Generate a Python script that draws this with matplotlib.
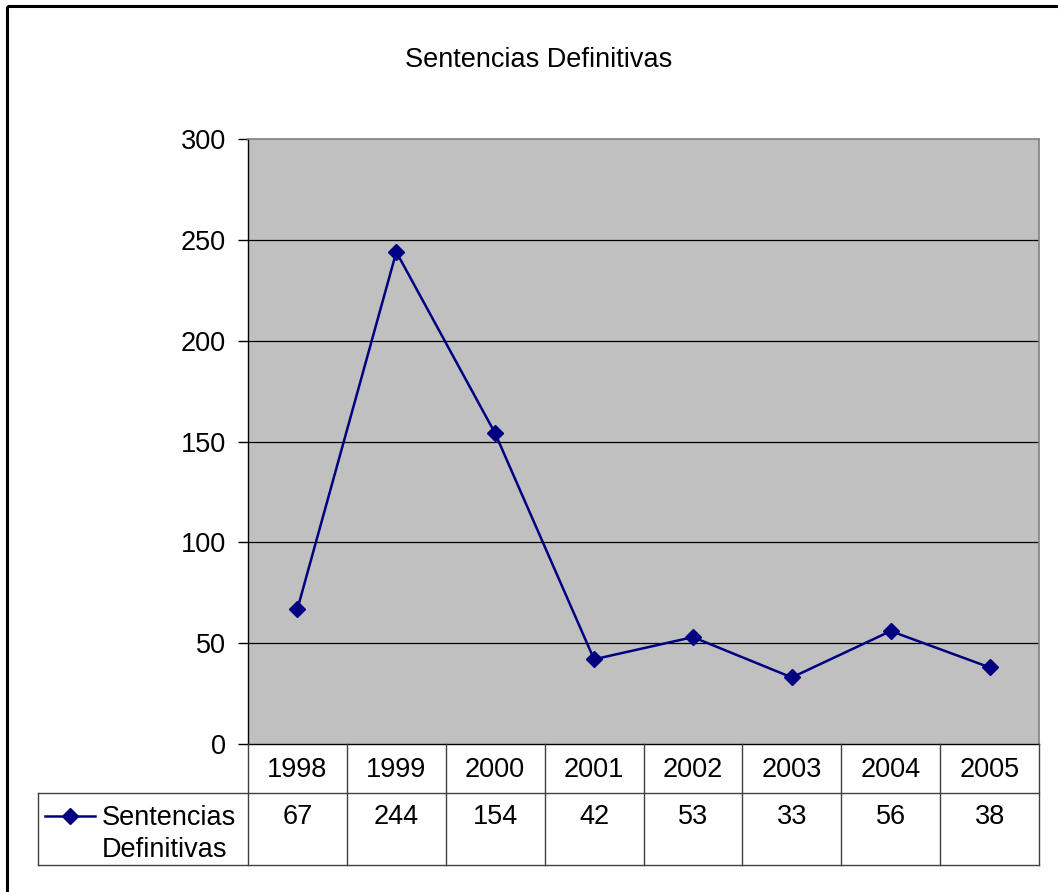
"""
Sentencias Definitivas 1998-2005: Excel-style line chart with a data table
underneath. Saves out.png (1058x892).
"""

import matplotlib
matplotlib.use('Agg')
import matplotlib.pyplot as plt
import matplotlib.transforms as mtransforms
from matplotlib.lines import Line2D
from matplotlib.patches import Rectangle

years = ['1998', '1999', '2000', '2001', '2002', '2003', '2004', '2005']
sentencias = [67, 244, 154, 42, 53, 33, 56, 38]
series_name = 'Sentencias Definitivas'
y_ticks = [0, 50, 100, 150, 200, 250, 300]

W, H = 1058, 892
FONT = 'Liberation Sans'
FS = 19.5
NAVY = '#000080'


def main():
    plt.rcParams['font.family'] = [FONT, 'DejaVu Sans']
    fig = plt.figure(figsize=(W / 100, H / 100), dpi=100)
    fig.patch.set_facecolor('white')

    # pixel coords with origin at top-left
    pix = mtransforms.Affine2D().scale(1 / W, -1 / H).translate(0, 1) + fig.transFigure

    # outer chart frame (right/bottom edges fall outside the image)
    fig.add_artist(Rectangle((7, 6), W + 20, H + 20, transform=pix, fill=False,
                             edgecolor='black', lw=2.2))

    left, right, top, bottom = 248, 1039, 139, 744
    ax = fig.add_axes([left / W, (H - bottom) / H, (right - left) / W, (bottom - top) / H])
    ax.set_facecolor('#C0C0C0')
    x = list(range(len(years)))
    ax.plot(x, sentencias, color=NAVY, lw=1.8, marker='D', markersize=8, zorder=3)
    ax.set_xlim(-0.5, len(years) - 0.5)
    ax.set_ylim(0, 300)
    ax.set_yticks(y_ticks)
    ax.set_yticklabels([str(t) for t in y_ticks], fontsize=FS)
    ax.set_xticks([])
    for t in y_ticks[1:-1]:
        ax.axhline(t, color='black', lw=0.9, zorder=1)
    ax.tick_params(axis='y', length=7, width=1, direction='out', pad=9)
    for side in ['top', 'right']:
        ax.spines[side].set_color('#808080')
        ax.spines[side].set_linewidth(1.2)
    ax.spines['left'].set_color('black')
    ax.spines['bottom'].set_color('black')
    ax.spines['left'].set_linewidth(1)
    ax.spines['bottom'].set_linewidth(1)

    fig.text(539, 60, series_name, transform=pix, ha='center', va='center', fontsize=FS)

    # data table
    tcol = mtransforms.blended_transform_factory(ax.transData, pix)
    row_mid, row_bot = 793, 865
    lc = '#404040'
    for i in range(len(years) + 1):
        fig.add_artist(Line2D([i - 0.5, i - 0.5], [bottom, row_bot], transform=tcol,
                              color=lc, lw=1))
    for yy in (row_mid, row_bot):
        fig.add_artist(Line2D([38, right], [yy, yy], transform=pix, color=lc, lw=1))
    fig.add_artist(Line2D([38, 38], [row_mid, row_bot], transform=pix, color=lc, lw=1))

    for i, (yr, v) in enumerate(zip(years, sentencias)):
        fig.text(i, 770, yr, transform=tcol, ha='center', va='center', fontsize=FS)
        fig.text(i, 817, str(v), transform=tcol, ha='center', va='center', fontsize=FS)

    # legend key in table
    fig.add_artist(Line2D([45, 70, 95], [816, 816, 816], transform=pix, color=NAVY, lw=1.8,
                          marker='D', markersize=8, markevery=[1]))
    fig.text(102, 818, 'Sentencias', transform=pix, ha='left', va='center', fontsize=FS)
    fig.text(102, 850, 'Definitivas', transform=pix, ha='left', va='center', fontsize=FS)

    fig.savefig('out.png', dpi=100)
    plt.close(fig)


if __name__ == '__main__':
    main()
